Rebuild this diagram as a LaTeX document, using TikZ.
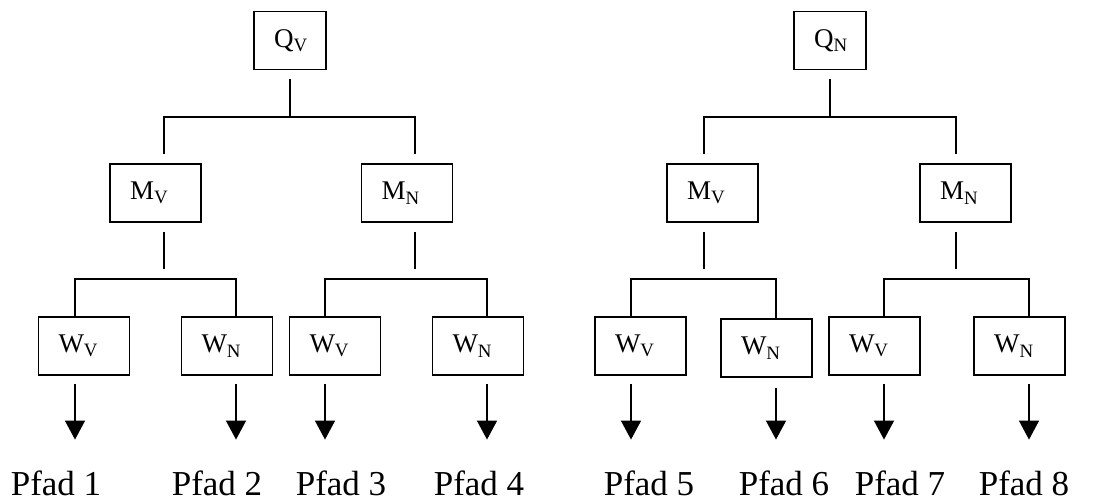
\documentclass[tikz,border=0pt]{standalone}
\usepackage{fontspec}
\setmainfont{Liberation Serif}
\usetikzlibrary{positioning,arrows.meta}

\begin{document}
\begin{tikzpicture}[x=0.5pt, y=-0.5pt, line width=0.8pt,
            kasten/.style={draw, minimum height=29pt, inner xsep=10pt, inner ysep=0pt,
              align=left, text width=25.5pt, font=\fontsize{13.5}{16}\selectfont},
            klein/.style={kasten, text width=16pt},
            pfad/.style={anchor=base west, inner sep=0pt, font=\fontsize{17.5}{20}\selectfont},
            pfeil/.style={-{Triangle[width=10pt,length=9.5pt]}}
        ]
          \useasboundingbox (0,0) rectangle (1107,500);
          % Wurzeln
          \node[klein] (q_v) at (290,40.5) {Q\textsubscript{V}};
          \node[klein] (q_n) at (830,40.5) {Q\textsubscript{N}};
          % mittlere Ebene
          \node[kasten] (m_v1) at (155.5,193) {M\textsubscript{V}};
          \node[kasten] (m_n1) at (407,193) {M\textsubscript{N}};
          \node[kasten] (m_v2) at (712.5,193) {M\textsubscript{V}};
          \node[kasten] (m_n2) at (965.5,193) {M\textsubscript{N}};
          % untere Ebene
          \node[kasten] (w_v1) at (84,346) {W\textsubscript{V}};
          \node[kasten] (w_n1) at (227,346) {W\textsubscript{N}};
          \node[kasten] (w_v2) at (335,346) {W\textsubscript{V}};
          \node[kasten] (w_n2) at (478,346) {W\textsubscript{N}};
          \node[kasten] (w_v3) at (640.5,346) {W\textsubscript{V}};
          \node[kasten] (w_n3) at (766.5,348) {W\textsubscript{N}};
          \node[kasten] (w_v4) at (874.5,346) {W\textsubscript{V}};
          \node[kasten] (w_n4) at (1019.5,346) {W\textsubscript{N}};
          % Pfade
          \node[pfad] (p1) at (10,495) {Pfad 1};
          \node[pfad] (p2) at (171,495) {Pfad 2};
          \node[pfad] (p3) at (295,495) {Pfad 3};
          \node[pfad] (p4) at (433,495) {Pfad 4};
          \node[pfad] (p5) at (603,495) {Pfad 5};
          \node[pfad] (p6) at (738,495) {Pfad 6};
          \node[pfad] (p7) at (854,495) {Pfad 7};
          \node[pfad] (p8) at (978,495) {Pfad 8};
          % Ecken der Verzweigungen
          \coordinate (l1) at (164,117);
          \coordinate (l2) at (415,117);
          \coordinate (l3) at (704,117);
          \coordinate (l4) at (956,117);
          \coordinate (k1) at (75,279);
          \coordinate (k2) at (236,279);
          \coordinate (k3) at (325,279);
          \coordinate (k4) at (487,279);
          \coordinate (k5) at (631,279);
          \coordinate (k6) at (776,279);
          \coordinate (k7) at (884,279);
          \coordinate (k8) at (1029,279);
          % Q -> M
          \draw ([yshift=-4.5pt]q_v.south) -- (q_v.south |- l1);
          \draw ([yshift=4.5pt]m_v1.north -| l1) -- (l1) -- (l2) -- ([yshift=4.5pt]m_n1.north -| l2);
          \draw ([yshift=-4.5pt]q_n.south) -- (q_n.south |- l3);
          \draw ([yshift=4.5pt]m_v2.north -| l3) -- (l3) -- (l4) -- ([yshift=4.5pt]m_n2.north -| l4);
          % M -> W
          \draw ([yshift=-4.5pt]m_v1.south -| l1) -- ([yshift=5pt]k1 -| l1);
          \draw ([yshift=-4.5pt]m_n1.south -| l2) -- ([yshift=5pt]k3 -| l2);
          \draw ([yshift=-4.5pt]m_v2.south -| l3) -- ([yshift=5pt]k5 -| l3);
          \draw ([yshift=-4.5pt]m_n2.south -| l4) -- ([yshift=5pt]k7 -| l4);
          \draw (w_v1.north -| k1) -- (k1) -- (k2) -- (w_n1.north -| k2);
          \draw (w_v2.north -| k3) -- (k3) -- (k4) -- (w_n2.north -| k4);
          \draw (w_v3.north -| k5) -- (k5) -- (k6) -- (w_n3.north -| k6);
          \draw (w_v4.north -| k7) -- (k7) -- (k8) -- (w_n4.north -| k8);
          % W -> Pfad
          \draw[pfeil] ([yshift=-4pt]w_v1.south -| k1) -- ([yshift=15pt]p1.north -| k1);
          \draw[pfeil] ([yshift=-4pt]w_n1.south -| k2) -- ([yshift=15pt]p2.north -| k2);
          \draw[pfeil] ([yshift=-4pt]w_v2.south -| k3) -- ([yshift=15pt]p3.north -| k3);
          \draw[pfeil] ([yshift=-4pt]w_n2.south -| k4) -- ([yshift=15pt]p4.north -| k4);
          \draw[pfeil] ([yshift=-4pt]w_v3.south -| k5) -- ([yshift=15pt]p5.north -| k5);
          \draw[pfeil] ([yshift=-5pt]w_n3.south -| k6) -- ([yshift=15pt]p6.north -| k6);
          \draw[pfeil] ([yshift=-4pt]w_v4.south -| k7) -- ([yshift=15pt]p7.north -| k7);
          \draw[pfeil] ([yshift=-4pt]w_n4.south -| k8) -- ([yshift=15pt]p8.north -| k8);
        \end{tikzpicture}
\end{document}
